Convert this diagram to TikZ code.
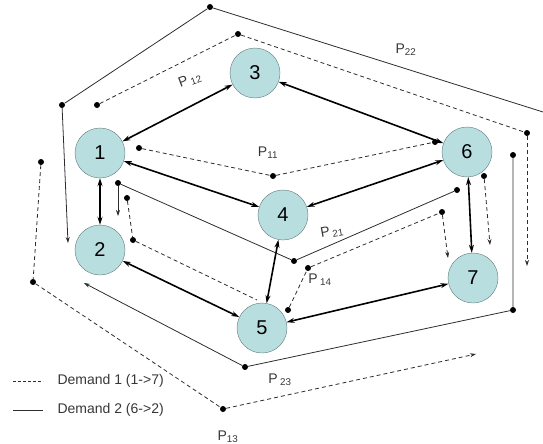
\documentclass[tikz,border=0pt]{standalone}
\usepackage{fontspec}
\setmainfont{Liberation Sans}
\usetikzlibrary{arrows.meta}

\definecolor{nodefill}{RGB}{185,222,224}
\definecolor{nodeline}{RGB}{95,120,120}
\definecolor{pathgray}{RGB}{45,45,45}
\definecolor{labelgray}{RGB}{55,55,55}

\begin{document}
\begin{tikzpicture}[x=1pt,y=-1pt,
    >={Stealth[length=8pt,width=5pt]},
    vertex/.style={circle,draw=nodeline,fill=nodefill,minimum size=50pt,inner sep=0pt,font=\fontsize{20}{24}\selectfont},
    pdot/.style={circle,fill=black,inner sep=0pt,minimum size=6pt},
    link/.style={<->,line width=1.6pt},
    thinarrow/.style={-{Stealth[length=6pt,width=4pt]}},
    dem1/.style={pathgray,line width=0.8pt,dash pattern=on 4pt off 3pt},
    dem2/.style={pathgray,line width=0.8pt},
    plabel/.style={text=labelgray,font=\fontsize{14}{16}\selectfont}]

    \useasboundingbox (0,0) rectangle (543,444);

    % network
    \node[vertex] (n1) at (100,153) {1};
    \node[vertex] (n2) at (100,250) {2};
    \node[vertex] (n3) at (255,73) {3};
    \node[vertex] (n4) at (283,215) {4};
    \node[vertex] (n5) at (262,328) {5};
    \node[vertex] (n6) at (467,152) {6};
    \node[vertex] (n7) at (473,278) {7};

    \draw[link] (n1) -- (n3);
    \draw[link] (n3) -- (n6);
    \draw[link] (n1) -- (n4);
    \draw[link] (n4) -- (n6);
    \draw[link] (n1) -- (n2);
    \draw[link] (n2) -- (n5);
    \draw[link] (n4) -- (n5);
    \draw[link] (n6) -- (n7);
    \draw[link] (n5) -- (n7);

    % demand 1 paths
    \node[pdot] (a11) at (139,148) {};
    \node[pdot] (b11) at (273,176) {};
    \node[pdot] (c11) at (435,142) {};
    \node[pdot] (d11) at (484,176) {};
    \coordinate (e11) at (490,245);
    \draw[dem1] (a11) -- (b11) -- (c11);
    \draw[dem1,thinarrow] (d11) -- (e11);

    \node[pdot] (a12) at (97,105) {};
    \node[pdot] (b12) at (238,34) {};
    \node[pdot] (c12) at (527,133) {};
    \coordinate (e12) at (527,266);
    \draw[dem1] (a12) -- (b12) -- (c12);
    \draw[dem1,thinarrow] (c12) -- (e12);

    \node[pdot] (a13) at (41,162) {};
    \node[pdot] (b13) at (33,282) {};
    \node[pdot] (c13) at (223,409) {};
    \coordinate (e13) at (476,354);
    \draw[dem1] (a13) -- (b13) -- (c13);
    \draw[dem1,thinarrow] (c13) -- (e13);

    \node[pdot] (a14) at (127,198) {};
    \node[pdot] (b14) at (133,240) {};
    \coordinate (x14) at (257,300);
    \node[pdot] (c14) at (288,310) {};
    \node[pdot] (d14) at (308,268) {};
    \node[pdot] (e14) at (442,212) {};
    \coordinate (f14) at (448,258);
    \draw[dem1] (a14) -- (b14) -- (x14);
    \draw[dem1] (c14) -- (d14) -- (e14);
    \draw[dem1,thinarrow] (e14) -- (f14);

    % demand 2 paths
    \node[pdot] (a21) at (457,190) {};
    \node[pdot] (b21) at (294,261) {};
    \node[pdot] (c21) at (118,183) {};
    \coordinate (d21) at (118,216);
    \draw[dem2] (a21) -- (b21) -- (c21);
    \draw[dem2,thinarrow] (c21) -- (d21);

    \coordinate (a22) at (543,112);
    \node[pdot] (b22) at (210,7) {};
    \node[pdot] (c22) at (62,105) {};
    \coordinate (d22) at (68,243);
    \draw[dem2] (a22) -- (b22) -- (c22);
    \draw[dem2,thinarrow] (c22) -- (d22);

    \node[pdot] (a23) at (513,155) {};
    \node[pdot] (b23) at (513,310) {};
    \node[pdot] (c23) at (245,367) {};
    \coordinate (d23) at (84,283);
    \draw[dem2] (a23) -- (b23) -- (c23);
    \draw[dem2,thinarrow] (c23) -- (d23);

    % path labels
    \node[plabel,rotate=20] (p12) at (190,80) {P\,\textsubscript{12}};
    \node[plabel] (p11) at (268,153) {P\textsubscript{11}};
    \node[plabel] (p22) at (406,50) {P\textsubscript{22}};
    \node[plabel,rotate=10] (p21) at (332,232) {P\,\textsubscript{21}};
    \node[plabel] (p14) at (320,280) {P\,\textsubscript{14}};
    \node[plabel] (p23) at (280,380) {P\,\textsubscript{23}};
    \node[plabel] (p13) at (228,437) {P\textsubscript{13}};

    % legend
    \coordinate (l1a) at (13,381);
    \coordinate (l1b) at (43,381);
    \coordinate (l2a) at (13,410);
    \coordinate (l2b) at (43,410);
    \draw[dem1,dash pattern=on 3pt off 2pt] (l1a) -- (l1b);
    \draw[dem2] (l2a) -- (l2b);
    \node[plabel,anchor=west] (leg1) at (54,381) {Demand 1 (1->7)};
    \node[plabel,anchor=west] (leg2) at (54,410) {Demand 2 (6->2)};

\end{tikzpicture}
\end{document}
